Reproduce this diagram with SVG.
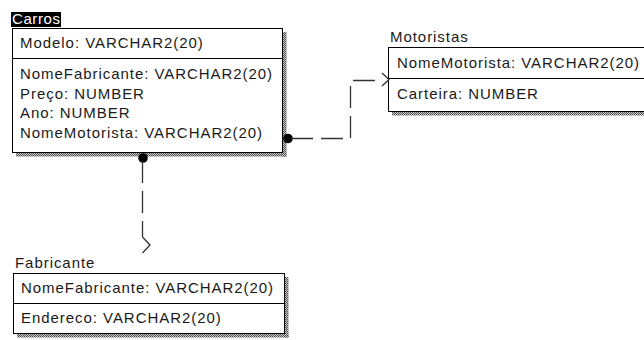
<svg xmlns="http://www.w3.org/2000/svg" width="644" height="340" viewBox="0 0 644 340">
  <defs>
    <!-- dithered drop shadow -->
    <pattern id="dither" width="2" height="2" patternUnits="userSpaceOnUse">
      <rect width="2" height="2" fill="#c8c8c8"/>
      <rect width="1" height="1" fill="#505050"/>
      <rect x="1" y="1" width="1" height="1" fill="#505050"/>
    </pattern>
  </defs>
  <style>
    text { font-family: "Liberation Sans", Arial, sans-serif; font-size: 15px; letter-spacing: 0.95px; fill: #1a1a1a; }
    .box { fill: #fff; stroke: #000; stroke-width: 1; }
    .div { stroke: #000; stroke-width: 1; }
    .shadow { fill: url(#dither); }
    .rel { fill: none; stroke: #333; stroke-width: 1.3; stroke-dasharray: 22 8; }
    .tip { fill: none; stroke: #333; stroke-width: 1.3; }
    .dot { fill: #000; }
  </style>
  <rect width="644" height="340" fill="#fff"/>

  <!-- Carros -->
  <g id="carros">
    <rect class="shadow" x="282.5" y="32" width="4" height="124.5"/>
    <rect class="shadow" x="16" y="152.5" width="270.5" height="4"/>
    <rect class="box" x="12.5" y="28.5" width="270" height="124"/>
    <line class="div" x1="12.5" y1="58.5" x2="282.5" y2="58.5"/>
    <rect x="11" y="12" width="50" height="15" fill="#000"/>
    <text x="12" y="24" style="fill:#fff;letter-spacing:0.6px">Carros</text>
    <text x="20" y="48">Modelo: VARCHAR2(20)</text>
    <text x="20" y="79">NomeFabricante: VARCHAR2(20)</text>
    <text x="20" y="98.5">Preço: NUMBER</text>
    <text x="20" y="118">Ano: NUMBER</text>
    <text x="20" y="137.5">NomeMotorista: VARCHAR2(20)</text>
  </g>

  <!-- Motoristas -->
  <g id="motoristas">
    <rect class="shadow" x="392" y="111.5" width="260" height="4"/>
    <rect class="box" x="388.5" y="47.5" width="262" height="64"/>
    <line class="div" x1="388.5" y1="78.5" x2="650" y2="78.5"/>
    <text x="390" y="42">Motoristas</text>
    <text x="397" y="67.5">NomeMotorista: VARCHAR2(20)</text>
    <text x="397" y="99">Carteira: NUMBER</text>
  </g>

  <!-- Fabricante -->
  <g id="fabricante">
    <rect class="shadow" x="284.5" y="277" width="4" height="60.5"/>
    <rect class="shadow" x="17" y="333.5" width="271.5" height="4"/>
    <rect class="box" x="13.5" y="273.5" width="271" height="60"/>
    <line class="div" x1="13.5" y1="303.5" x2="284.5" y2="303.5"/>
    <text x="15" y="268">Fabricante</text>
    <text x="21" y="293">NomeFabricante: VARCHAR2(20)</text>
    <text x="21" y="323">Endereco: VARCHAR2(20)</text>
  </g>

  <!-- relationships -->
  <g id="connectors">
    <circle class="dot" cx="288" cy="138.5" r="4.8"/>
    <path class="rel" d="M291,138.5 H350.5 V80.5 H382"/>
    <path class="tip" d="M382,73 L389,79.5 L382,86"/>
    <circle class="dot" cx="143" cy="158" r="4.8"/>
    <path class="rel" d="M142.5,161 V237"/>
    <path class="tip" d="M142.5,237 L150,245 L142.5,253"/>
  </g>
</svg>
